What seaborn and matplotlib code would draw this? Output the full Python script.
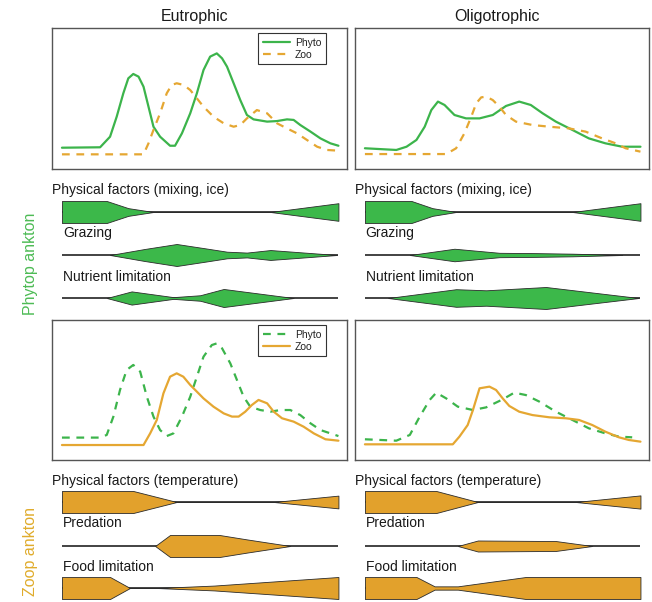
import numpy as np
import pandas as pd
import matplotlib
matplotlib.use("Agg")
import matplotlib.pyplot as plt
import seaborn as sns

# ------------------------------------------------------------------ data
columns = ["Eutrophic", "Oligotrophic"]
side_labels = ["Phytop ankton", "Zoop ankton"]
series_names = ["Phyto", "Zoo"]

# Upper panels (phytoplankton focus): Phyto solid, Zoo dashed
eu_top_phyto_x = [0, 13.8, 17.4, 19.8, 22.2, 24.0, 25.8, 27.7, 29.5, 31.3, 33.1, 35.5, 39.1, 40.9,
                  43.4, 46.4, 48.8, 51.2, 53.6, 56.0, 57.9, 59.7, 62.1, 64.5, 66.9, 69.3, 74.2,
                  77.8, 81.4, 83.8, 86.2, 89.9, 93.5, 97.1, 100]
eu_top_phyto_y = [15.1, 15.4, 22.9, 37.1, 53.7, 64.3, 67.4, 65.5, 58.4, 44.2, 30.0, 22.9, 16.5, 16.5,
                  25.3, 39.5, 53.7, 70.2, 79.7, 82.0, 78.5, 72.6, 60.8, 48.9, 38.3, 35.2, 33.6,
                  34.0, 35.2, 34.8, 31.2, 26.5, 21.7, 18.2, 16.5]
eu_top_zoo_x = [0, 29.5, 31.3, 33.1, 35.5, 37.9, 39.7, 41.5, 44.0, 46.4, 48.8, 51.2, 54.8, 58.5,
                62.1, 64.5, 66.9, 70.5, 74.2, 77.8, 81.4, 85.0, 88.6, 92.3, 95.9, 100]
eu_top_zoo_y = [10.4, 10.4, 18.2, 27.7, 39.5, 53.7, 59.6, 60.8, 59.6, 56.0, 50.1, 44.2, 37.1, 32.4,
                30.0, 31.2, 35.9, 41.8, 39.5, 32.4, 28.8, 25.3, 20.6, 15.8, 13.5, 13.0]

ol_top_phyto_x = [0, 11.4, 15.1, 18.7, 21.7, 24.1, 26.5, 28.9, 32.5, 36.7, 41.6, 46.4, 51.2, 56.0,
                  60.2, 64.5, 69.3, 75.3, 81.3, 87.3, 93.4, 100]
ol_top_phyto_y = [14.7, 13.5, 15.8, 20.6, 30.0, 41.8, 47.8, 45.4, 38.3, 35.9, 35.9, 38.3, 44.7, 47.8,
                  45.4, 39.5, 33.6, 27.7, 21.7, 18.2, 15.8, 15.8]
ol_top_zoo_x = [0, 29.5, 33.1, 36.1, 38.6, 40.4, 42.2, 44.0, 46.4, 48.8, 51.2, 54.8, 60.8, 66.9,
                74.1, 80.1, 86.1, 91.0, 94.6, 100]
ol_top_zoo_y = [10.6, 10.6, 14.7, 25.3, 37.1, 46.6, 50.8, 51.3, 48.9, 44.2, 38.3, 33.6, 31.2, 30.0,
                28.8, 26.5, 21.7, 18.2, 14.7, 12.3]

# Lower panels (zooplankton focus): Phyto dashed, Zoo solid
eu_bot_phyto_x = [0, 13.8, 16.2, 18.6, 21.0, 23.4, 25.8, 28.3, 30.7, 33.1, 35.5, 37.9, 40.3, 43.4,
                  46.4, 48.8, 51.2, 54.2, 56.0, 57.9, 60.9, 63.3, 65.7, 68.1, 71.7, 75.4, 79.0,
                  82.6, 86.2, 89.9, 93.5, 100]
eu_bot_phyto_y = [16.0, 16.0, 17.9, 31.0, 50.0, 64.3, 67.9, 63.1, 45.2, 31.0, 21.4, 17.1, 19.0, 31.0,
                  45.2, 59.5, 73.8, 82.1, 83.3, 79.8, 69.0, 57.1, 45.2, 38.1, 35.7, 34.5, 35.7,
                  35.7, 32.1, 26.2, 21.4, 17.1]
eu_bot_zoo_x = [0, 29.5, 31.9, 34.3, 36.7, 39.1, 41.5, 43.9, 46.4, 48.8, 51.2, 54.8, 58.5, 61.5,
                63.9, 66.3, 68.7, 71.1, 74.2, 76.6, 79.6, 83.8, 87.4, 91.1, 95.3, 100]
eu_bot_zoo_y = [10.7, 10.7, 19.0, 28.6, 47.6, 59.5, 61.9, 59.5, 53.6, 48.8, 44.0, 38.1, 33.3, 31.0,
                31.0, 34.5, 39.3, 42.9, 40.5, 34.5, 29.8, 27.4, 23.8, 19.0, 14.8, 13.8]

ol_bot_phyto_x = [0, 11.4, 16.3, 19.9, 23.5, 25.9, 29.5, 33.7, 39.2, 44.0, 50.0, 54.2, 58.4, 63.3,
                  69.3, 75.3, 81.3, 87.3, 92.2, 97.0]
ol_bot_phyto_y = [14.8, 13.8, 17.9, 31.0, 42.9, 48.1, 44.0, 38.1, 35.7, 37.6, 43.3, 48.1, 46.4, 41.7,
                  34.5, 28.6, 22.6, 19.0, 16.7, 16.2]
ol_bot_zoo_x = [0, 31.9, 34.3, 37.3, 39.2, 41.6, 45.2, 47.6, 50.0, 52.4, 56.0, 60.8, 66.9, 72.9,
                77.7, 82.5, 87.3, 92.2, 95.8, 100]
ol_bot_zoo_y = [11.2, 11.2, 16.7, 25.0, 35.7, 51.2, 52.4, 50.0, 44.0, 38.6, 34.5, 32.1, 30.5, 29.8,
                28.6, 25.0, 20.2, 16.2, 14.3, 13.1]

# Kite diagrams: relative strength of controlling factors over the season
phyto_factors = ["Physical factors (mixing, ice)", "Grazing", "Nutrient limitation"]
zoo_factors = ["Physical factors (temperature)", "Predation", "Food limitation"]

eu_phyto_kites = [
    ([0, 16.2, 24.0, 33.1, 75.4, 100], [1.0, 1.0, 0.35, 0, 0, 0.8]),
    ([17.4, 30.0, 41.5, 52.0, 59.7, 66.9, 75.4, 99.5], [0, 0.55, 1.0, 0.6, 0.3, 0.22, 0.45, 0]),
    ([16.2, 25.2, 40.3, 50.0, 58.5, 83.8], [0, 0.6, 0.08, 0.25, 0.82, 0]),
]
ol_phyto_kites = [
    ([0, 16.9, 24.5, 33.1, 75.3, 100], [1.0, 1.0, 0.35, 0, 0, 0.8]),
    ([16.3, 32.5, 48.8, 62.0, 75.3, 93.4], [0, 0.57, 0.2, 0.17, 0.12, 0]),
    ([8.4, 33.1, 44.0, 65.7, 99.4], [0, 0.8, 0.7, 1.0, 0]),
]
eu_zoo_kites = [
    ([0, 25.8, 41.5, 76.6, 100], [1.0, 1.0, 0, 0, 0.58]),
    ([33.7, 39.1, 57.0, 66.9, 82.6], [0, 1.0, 1.0, 0.6, 0]),
    ([0, 17.4, 24.6, 34.3, 55.0, 100], [1.0, 1.0, 0, 0, 0.22, 1.0]),
]
ol_zoo_kites = [
    ([0, 25.9, 41.0, 76.5, 100], [1.0, 1.0, 0, 0, 0.6]),
    ([33.7, 41.0, 69.3, 82.5], [0, 0.5, 0.45, 0]),
    ([0, 18.7, 25.3, 33.7, 58.4, 100], [1.0, 1.0, 0.15, 0.15, 1.0, 1.0]),
]

# ------------------------------------------------------------------ style
sns.set_theme(style="white")
plt.rcParams["font.family"] = ["Liberation Sans", "DejaVu Sans"]

GREEN = "#3cb44b"
ORANGE = "#e5a732"
GREEN_FILL = "#3cb84a"
ORANGE_FILL = "#e2a12c"
EDGE = "#2b2b2b"

W, H = 652, 602
fig = plt.figure(figsize=(W / 100, H / 100), dpi=100)


def px_axes(x0, y0, x1, y1):
    return fig.add_axes([x0 / W, 1 - y1 / H, (x1 - x0) / W, (y1 - y0) / H])


col_x = [(52, 347), (355, 649)]
XLIM = (-3.6, 103.1)


def curve_panel(ax, phyto, zoo, phyto_dashed, legend):
    dfp = pd.DataFrame({"t": phyto[0], "v": phyto[1]})
    dfz = pd.DataFrame({"t": zoo[0], "v": zoo[1]})
    sns.lineplot(data=dfp, x="t", y="v", ax=ax, color=GREEN, linewidth=1.6,
                 label=series_names[0], sort=False, estimator=None)
    lp = ax.lines[-1]
    sns.lineplot(data=dfz, x="t", y="v", ax=ax, color=ORANGE, linewidth=1.6,
                 label=series_names[1], sort=False, estimator=None)
    lz = ax.lines[-1]
    (lp if phyto_dashed else lz).set_dashes([3.5, 3.0])
    ax.set_xlim(*XLIM)
    ax.set_ylim(0, 100)
    ax.set_xticks([])
    ax.set_yticks([])
    ax.set_xlabel("")
    ax.set_ylabel("")
    for s in ax.spines.values():
        s.set_visible(True)
        s.set_color("#555555")
        s.set_linewidth(1.0)
    if legend:
        leg = ax.legend(handles=[lp, lz], labels=series_names, loc="upper right",
                        bbox_to_anchor=(0.929, 0.965), borderaxespad=0, fontsize=7.5,
                        frameon=True, fancybox=False, edgecolor="#333333", framealpha=1,
                        handlelength=2.6, handletextpad=0.5, borderpad=0.45,
                        labelspacing=0.2)
        leg.get_frame().set_linewidth(0.8)
        for t in leg.get_texts():
            t.set_color("#222222")
    else:
        if ax.get_legend() is not None:
            ax.get_legend().remove()


def kite_panel(ax, kites, labels, fill, centers, label_y):
    ax.set_xlim(*XLIM)
    ax.axis("off")
    half = 11
    for (kx, kw), lab, c, ly in zip(kites, labels, centers, label_y):
        ax.plot([0, 100], [c, c], color="#222222", lw=1.2, zorder=1,
                solid_capstyle="butt")
        kx = np.asarray(kx, float)
        kw = np.asarray(kw, float)
        ax.fill_between(kx, c - kw * half, c + kw * half, facecolor=fill,
                        edgecolor=EDGE, linewidth=0.6, zorder=2)
        tx = -3.6 if lab.startswith("Physical") else 0.3
        ax.text(tx, ly, lab, fontsize=10, color="#1a1a1a", ha="left", va="center")


for ci, (x0, x1) in enumerate(col_x):
    ax_top = px_axes(x0, 28, x1, 169)
    ax_bot = px_axes(x0, 320, x1, 460)
    if ci == 0:
        curve_panel(ax_top, (eu_top_phyto_x, eu_top_phyto_y), (eu_top_zoo_x, eu_top_zoo_y),
                    phyto_dashed=False, legend=True)
        curve_panel(ax_bot, (eu_bot_phyto_x, eu_bot_phyto_y), (eu_bot_zoo_x, eu_bot_zoo_y),
                    phyto_dashed=True, legend=True)
        pk, zk = eu_phyto_kites, eu_zoo_kites
    else:
        curve_panel(ax_top, (ol_top_phyto_x, ol_top_phyto_y), (ol_top_zoo_x, ol_top_zoo_y),
                    phyto_dashed=False, legend=False)
        curve_panel(ax_bot, (ol_bot_phyto_x, ol_bot_phyto_y), (ol_bot_zoo_x, ol_bot_zoo_y),
                    phyto_dashed=True, legend=False)
        pk, zk = ol_phyto_kites, ol_zoo_kites

    # kite axes: y in pixel units (inverted)
    ax_pk = px_axes(x0, 170, x1, 318)
    kite_panel(ax_pk, pk, phyto_factors, GREEN_FILL, [212, 255, 298], [190, 233, 277])
    ax_pk.set_ylim(318, 170)
    ax_zk = px_axes(x0, 462, x1, 602)
    kite_panel(ax_zk, zk, zoo_factors, ORANGE_FILL, [502, 546, 588], [481, 523, 567])
    ax_zk.set_ylim(602, 462)

# column titles
fig.text(195 / W, 1 - 16 / H, columns[0], fontsize=11.5, ha="center", va="center", color="#1a1a1a")
fig.text(497 / W, 1 - 16 / H, columns[1], fontsize=11.5, ha="center", va="center", color="#1a1a1a")

# side labels
fig.text(30 / W, 1 - 264 / H, side_labels[0], fontsize=11.5, rotation=90, ha="center",
         va="center", color="#4dbb55")
fig.text(30 / W, 1 - 552 / H, side_labels[1], fontsize=11.5, rotation=90, ha="center",
         va="center", color="#e0ac2c")

fig.savefig("out.png", dpi=100)
